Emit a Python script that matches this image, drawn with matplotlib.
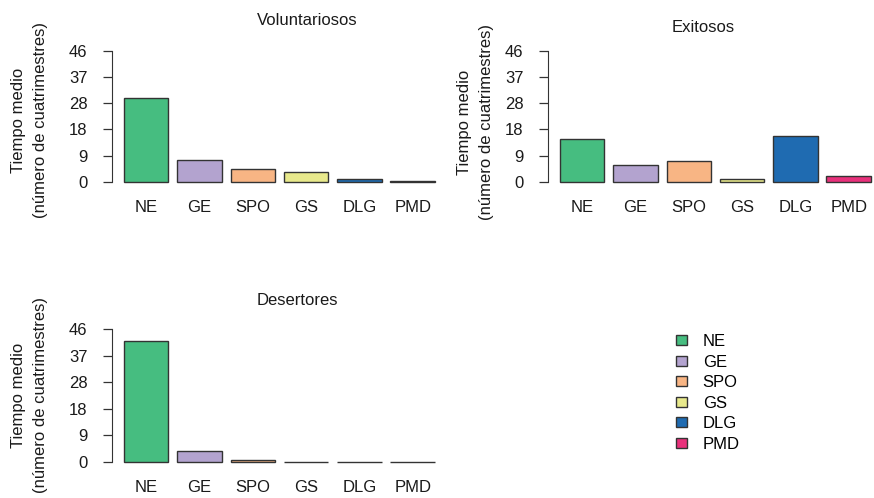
import matplotlib
matplotlib.use("Agg")
import numpy as np
from matplotlib import pyplot as plt
from matplotlib.patches import Patch

plt.rcParams['font.family'] = ['Liberation Sans', 'DejaVu Sans']

categorias = ['NE', 'GE', 'SPO', 'GS', 'DLG', 'PMD']
colores = ['#46bd80', '#b3a3cf', '#f8b584', '#e8e98c', '#1f6bb1', '#e8317b']

voluntariosos = [29.3, 7.7, 4.5, 3.5, 1.0, 0.3]
exitosos = [15.0, 5.8, 7.5, 1.2, 16.0, 2.1]
desertores = [42.0, 3.7, 0.5, 0.0, 0.0, 0.0]

y_ticks = np.linspace(0, 46, 6)
y_labels = ['0', '9', '18', '28', '37', '46']

W, H = 874, 498
fs = 12
ylab = 'Tiempo medio\n(número de cuatrimestres)'

fig = plt.figure(figsize=(W / 100, H / 100), dpi=100)


def panel(rect, vals, titulo, tpos, lpos):
    ax = fig.add_axes(rect)
    x = 0.2 + 1.2 * np.arange(len(vals))
    ax.bar(x, vals, width=1.0, align='edge', color=colores,
           edgecolor='#333333', linewidth=1.0)
    ax.set_xlim(-0.08, 7.48)
    ax.set_ylim(-1.84, 47.84)
    for s in ['top', 'right', 'bottom']:
        ax.spines[s].set_visible(False)
    ax.spines['left'].set_bounds(0, 46)
    ax.spines['left'].set_color('#333333')
    ax.set_yticks(y_ticks)
    ax.set_yticklabels(y_labels, fontsize=fs, color='#1a1a1a')
    ax.tick_params(axis='y', length=6.3, width=0.9, color='#333333', pad=11)
    ax.set_xticks(x + 0.5)
    ax.set_xticklabels(categorias, fontsize=fs, color='#1a1a1a')
    ax.tick_params(axis='x', length=0, pad=9)
    ax.patch.set_visible(False)
    fig.text(tpos[0] / W, 1 - tpos[1] / H, titulo, fontsize=fs,
             ha='center', va='center', color='#1a1a1a')
    fig.text(lpos[0] / W, 1 - lpos[1] / H, ylab, fontsize=fs, rotation=90,
             ha='center', va='center', multialignment='center',
             linespacing=1.5, color='#1a1a1a')
    return ax


panel([111.6 / W, 1 - 187.25 / H, 335.7 / W, 141.8 / H], voluntariosos,
      'Voluntariosos', (307, 20), (29.5, 120))
panel([547.6 / W, 1 - 187.25 / H, 335.7 / W, 141.8 / H], exitosos,
      'Exitosos', (703, 28), (475.5, 122))
panel([111.6 / W, 1 - 467.0 / H, 335.7 / W, 143.0 / H], desertores,
      'Desertores', (297, 300), (29.5, 395))

handles = [Patch(facecolor=c, edgecolor='#333333', linewidth=1.0) for c in colores]
fig.legend(handles, categorias, loc='upper left',
           bbox_to_anchor=(676 / W, 1 - 334 / H), frameon=False,
           fontsize=fs, handlelength=0.65, handleheight=0.55,
           handletextpad=0.95, labelspacing=0.33, borderpad=0,
           borderaxespad=0)

fig.savefig('out.png', dpi=100)
